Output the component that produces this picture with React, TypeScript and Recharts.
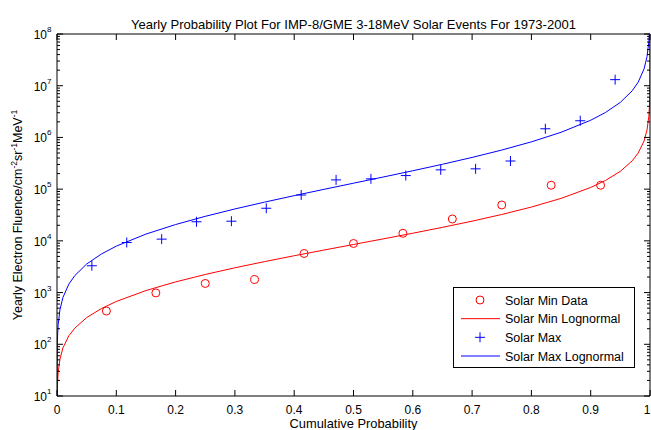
import React from 'react';
import { ComposedChart, Line, Scatter, XAxis, YAxis, Legend } from 'recharts';

const FONT = "'Liberation Sans', Arial, Helvetica, sans-serif";
const RED = '#ff0000';
const BLUE = '#0000ff';

const titleText = 'Yearly Probability Plot For IMP-8/GME 3-18MeV Solar Events For 1973-2001';
const xLabelText = 'Cumulative Probability';
const seriesNames = ['Solar Min Data', 'Solar Min Lognormal', 'Solar Max', 'Solar Max Lognormal'];

const xTicks = [0, 0.1, 0.2, 0.3, 0.4, 0.5, 0.6, 0.7, 0.8, 0.9, 1];
const xTickLabels = ['0', '0.1', '0.2', '0.3', '0.4', '0.5', '0.6', '0.7', '0.8', '0.9', '1'];
const yDecadeExponents = [1, 2, 3, 4, 5, 6, 7, 8];
const yMinorSteps = [2, 3, 4, 5, 6, 7, 8, 9];

// Solar minimum yearly data points
const solarMinP = [0.0833, 0.1667, 0.25, 0.3333, 0.4167, 0.5, 0.5833, 0.6667, 0.75, 0.8333, 0.9167];
const solarMinFluence = [440, 985, 1500, 1790, 5700, 8900, 14000, 26500, 49400, 119000, 119000];

// Solar maximum yearly data points
const solarMaxP = [0.0588, 0.1176, 0.1765, 0.2353, 0.2941, 0.3529, 0.4118, 0.4706, 0.5294, 0.5882, 0.6471, 0.7059, 0.7647, 0.8235, 0.8824, 0.9412];
const solarMaxFluence = [3300, 9300, 10800, 23400, 24000, 42700, 77000, 151000, 158000, 183000, 236000, 247000, 350000, 1470000, 2100000, 13100000];

// Lognormal fit curves
const fitP = [0.000001, 0.0005, 0.001, 0.002, 0.005, 0.01, 0.02, 0.03, 0.05, 0.075, 0.1, 0.15, 0.2, 0.25, 0.3, 0.35, 0.4, 0.45, 0.5, 0.55, 0.6, 0.65, 0.7, 0.75, 0.8, 0.85, 0.9, 0.925, 0.95, 0.97, 0.98, 0.99, 0.995, 0.998, 0.999, 0.9995, 0.9999, 0.99999, 0.999999];
const solarMinFit = [0.7, 12.6, 18.7, 28.5, 51.8, 85, 146, 205, 328, 492, 673, 1094, 1608, 2238, 3013, 3969, 5154, 6635, 8511, 10920, 14050, 18260, 24040, 32370, 45060, 66220, 107700, 147400, 221200, 353000, 497000, 851700, 1398000, 2542000, 3868000, 5758000, 13440000, 39600000, 104000000];
const solarMaxFit = [3.98, 97.5, 151, 240, 466, 804, 1459, 2128, 3566, 5585, 7900, 13520, 20680, 29790, 41400, 56100, 74850, 99000, 130300, 171400, 226800, 302600, 410300, 570000, 821300, 1256000, 2150000, 3040000, 4760000, 7980000, 11640000, 21120000, 36500000, 70600000, 112500000, 174000000, 445000000, 1480000000, 4270000000];

const minPoints = solarMinP.map((p, i) => ({ p, v: solarMinFluence[i] }));
const maxPoints = solarMaxP.map((p, i) => ({ p, v: solarMaxFluence[i] }));
const minCurve = fitP.map((p, i) => ({ p, v: solarMinFit[i] }));
const maxCurve = fitP.map((p, i) => ({ p, v: solarMaxFit[i] }));

const yTicks: number[] = [];
yDecadeExponents.forEach((e) => {
  yTicks.push(Math.pow(10, e));
  if (e < 8) yMinorSteps.forEach((m) => yTicks.push(m * Math.pow(10, e)));
});

const isMajor = (v: number) => {
  const l = Math.log10(v);
  return Math.abs(l - Math.round(l)) < 1e-6;
};

const BottomTick = (props: any) => {
  const { x, y, payload } = props;
  const i = xTicks.findIndex((t) => Math.abs(t - payload.value) < 1e-9);
  const last = i === xTicks.length - 1;
  return (
    <g>
      <line x1={x} x2={x} y1={y} y2={y - 6} stroke="#000" />
      <text x={last ? x + 0.5 : x} y={y + 18} textAnchor={last ? 'end' : 'middle'} fontSize={12} fontFamily={FONT} fill="#000">
        {i >= 0 ? xTickLabels[i] : String(payload.value)}
      </text>
    </g>
  );
};

const TopTick = (props: any) => {
  const { x, y } = props;
  return <line x1={x} x2={x} y1={y} y2={y + 6} stroke="#000" />;
};

const LeftTick = (props: any) => {
  const { x, y, payload } = props;
  const v = payload.value as number;
  const major = isMajor(v);
  const len = major ? 6 : 3;
  return (
    <g>
      <line x1={x} x2={x + len} y1={y} y2={y} stroke="#000" />
      {major && (
        <g fontFamily={FONT} fill="#000">
          <text x={x - 10} y={y + 5} textAnchor="end" fontSize={12}>10</text>
          <text x={x - 10} y={y - 2} textAnchor="start" fontSize={8}>{String(Math.round(Math.log10(v)))}</text>
        </g>
      )}
    </g>
  );
};

const RightTick = (props: any) => {
  const { x, y, payload } = props;
  const len = isMajor(payload.value) ? 6 : 3;
  return <line x1={x} x2={x - len} y1={y} y2={y} stroke="#000" />;
};

const CircleShape = (props: any) => {
  const { cx, cy } = props;
  return <circle cx={cx} cy={cy} r={4} fill="none" stroke={RED} strokeWidth={1} />;
};

const PlusShape = (props: any) => {
  const { cx, cy } = props;
  return (
    <g stroke={BLUE} strokeWidth={1}>
      <line x1={cx - 5} x2={cx + 5} y1={cy} y2={cy} />
      <line x1={cx} x2={cx} y1={cy - 5} y2={cy + 5} />
    </g>
  );
};

const renderTitle = (props: any) => {
  const vb = props.viewBox || {};
  return (
    <text x={vb.x + vb.width / 2} y={vb.y - 4} textAnchor="middle" fontSize={13.5} fontFamily={FONT} fill="#000" textLength={445} lengthAdjust="spacingAndGlyphs">
      {titleText}
    </text>
  );
};

const renderXLabel = (props: any) => {
  const vb = props.viewBox || {};
  return (
    <text x={vb.x + vb.width / 2} y={vb.y + 32} textAnchor="middle" fontSize={13} fontFamily={FONT} fill="#000" textLength={128} lengthAdjust="spacingAndGlyphs">
      {xLabelText}
    </text>
  );
};

const renderYLabel = (props: any) => {
  const vb = props.viewBox || {};
  const cx = vb.x + 22;
  const cy = vb.y + vb.height / 2;
  return (
    <text x={cx} y={cy} transform={`rotate(-90, ${cx}, ${cy})`} textAnchor="middle" fontSize={12.5} fontFamily={FONT} fill="#000">
      Yearly Electron Fluence/cm
      <tspan dy={-5} fontSize={8.5}>-2</tspan>
      <tspan dy={5}>sr</tspan>
      <tspan dy={-5} fontSize={8.5}>-1</tspan>
      <tspan dy={5}>MeV</tspan>
      <tspan dy={-5} fontSize={8.5}>-1</tspan>
    </text>
  );
};

const LegendBox = () => (
  <svg width={182} height={81} style={{ display: 'block' }}>
    <rect x={0.5} y={0.5} width={181} height={80} fill="#fff" stroke="#000" />
    {seriesNames.map((name, i) => {
      const cy = 13 + i * 18.67;
      const color = i < 2 ? RED : BLUE;
      return (
        <g key={name}>
          {i === 0 && <circle cx={27} cy={cy} r={4} fill="none" stroke={RED} />}
          {i === 2 && (
            <g stroke={BLUE}>
              <line x1={22} x2={32} y1={cy} y2={cy} />
              <line x1={27} x2={27} y1={cy - 5} y2={cy + 5} />
            </g>
          )}
          {(i === 1 || i === 3) && <line x1={8} x2={47} y1={cy} y2={cy} stroke={color} />}
          <text x={52} y={cy + 4.5} fontSize={12.5} fontFamily={FONT} fill="#000">{name}</text>
        </g>
      );
    })}
  </svg>
);

export default function App() {
  return (
    <div style={{ position: 'absolute', left: 0, top: 0, background: '#fff' }}>
      <ComposedChart width={651} height={430} margin={{ top: 33, right: 0, bottom: 0, left: 0 }}>
        <XAxis
          xAxisId="bottom"
          type="number"
          dataKey="p"
          domain={[0, 1]}
          allowDataOverflow
          ticks={xTicks}
          interval={0}
          height={34}
          tickSize={0}
          tickMargin={0}
          tickLine={false}
          axisLine={{ stroke: '#000' }}
          tick={<BottomTick />}
          label={renderXLabel}
        />
        <XAxis
          xAxisId="top"
          orientation="top"
          type="number"
          dataKey="p"
          domain={[0, 1]}
          allowDataOverflow
          ticks={xTicks}
          interval={0}
          height={1}
          tickSize={0}
          tickMargin={0}
          tickLine={false}
          axisLine={{ stroke: '#000' }}
          tick={<TopTick />}
          label={renderTitle}
        />
        <YAxis
          yAxisId="left"
          type="number"
          scale="log"
          domain={[10, 100000000]}
          allowDataOverflow
          ticks={yTicks}
          interval={0}
          width={57}
          tickSize={0}
          tickMargin={0}
          tickLine={false}
          axisLine={{ stroke: '#000' }}
          tick={<LeftTick />}
          label={renderYLabel}
        />
        <YAxis
          yAxisId="right"
          orientation="right"
          type="number"
          scale="log"
          domain={[10, 100000000]}
          allowDataOverflow
          ticks={yTicks}
          interval={0}
          width={1}
          tickSize={0}
          tickMargin={0}
          tickLine={false}
          axisLine={{ stroke: '#000' }}
          tick={<RightTick />}
        />
        <Scatter name={seriesNames[0]} data={minPoints} dataKey="v" xAxisId="bottom" yAxisId="left" shape={<CircleShape />} isAnimationActive={false} />
        <Line name={seriesNames[1]} data={minCurve} dataKey="v" xAxisId="bottom" yAxisId="left" stroke={RED} strokeWidth={1} dot={false} activeDot={false} isAnimationActive={false} />
        <Scatter name={seriesNames[2]} data={maxPoints} dataKey="v" xAxisId="bottom" yAxisId="left" shape={<PlusShape />} isAnimationActive={false} />
        <Line name={seriesNames[3]} data={maxCurve} dataKey="v" xAxisId="bottom" yAxisId="left" stroke={BLUE} strokeWidth={1} dot={false} activeDot={false} isAnimationActive={false} />
        <Legend
          layout="horizontal"
          verticalAlign="middle"
          align="center"
          content={() => <LegendBox />}
          wrapperStyle={{ position: 'absolute', left: 453, top: 287, width: 182, height: 81, right: 'auto', bottom: 'auto' }}
        />
      </ComposedChart>
    </div>
  );
}
